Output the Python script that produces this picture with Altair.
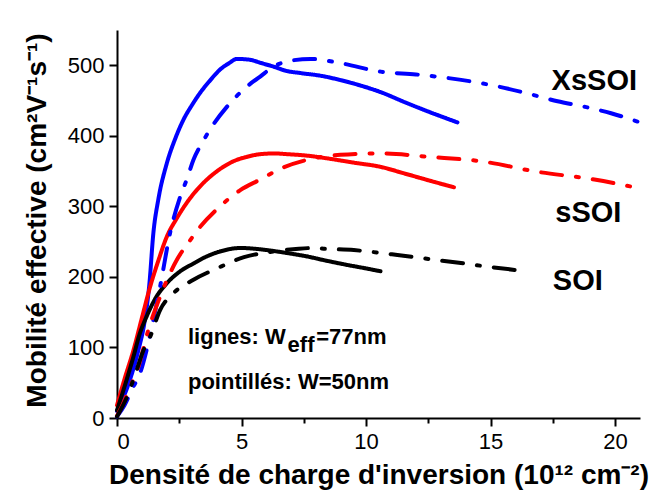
import altair as alt
import pandas as pd

# ---- data ----
# XsSOI, W_eff = 77 nm (solid)
xs_solid_x = [0.0, 0.5, 0.85, 1.1, 1.3, 1.46, 1.66, 2.0, 2.35, 2.67, 3.0, 3.34, 3.75, 4.14, 4.5, 4.82,
              5.3, 5.8, 6.29, 6.8, 7.36, 8.2, 8.97, 9.8, 10.58, 11.6, 12.6, 13.67]
xs_solid_y = [10, 52, 95, 135, 190, 262, 310, 361, 397, 423, 443, 461, 479, 494, 503, 509,
              508, 503, 498, 492, 489, 485, 479, 471, 462, 447, 433, 419]
# sSOI, W_eff = 77 nm (solid)
s_solid_x = [0.0, 0.3, 0.66, 1.0, 1.33, 1.65, 2.0, 2.4, 2.8, 3.2, 3.61, 4.1, 4.68, 5.2, 5.75, 6.3,
             6.83, 7.6, 8.44, 9.5, 10.58, 11.5, 12.5, 13.53]
s_solid_y = [18, 55, 96, 142, 186, 222, 257, 283, 305, 323, 338, 352, 364, 370, 374, 375,
             374, 372, 368, 362, 356, 347, 337, 327]
# SOI, W_eff = 77 nm (solid)
soi_solid_x = [0.0, 0.35, 0.66, 0.9, 1.19, 1.55, 2.0, 2.5, 3.07, 3.6, 4.14, 4.95, 5.5, 6.02, 6.8,
               7.63, 8.4, 9.24, 10.0, 10.58]
soi_solid_y = [11, 50, 87, 118, 144, 170, 191, 207, 219, 229, 236, 241, 240, 238, 234,
               229, 223, 217, 212, 208]
# XsSOI, W = 50 nm (dash-dot)
xs_dd_x = [0.0, 0.3, 0.59, 0.93, 1.2, 1.46, 1.73, 2.13, 2.54, 2.8, 3.07, 3.45, 3.81, 4.41, 5.22, 5.75,
           6.28, 6.9, 7.77, 8.97, 10.58, 12.0, 13.27, 14.4, 15.55, 16.6, 17.69, 18.8, 19.84, 21.0]
xs_dd_y = [2, 18, 40, 64, 98, 139, 186, 262, 314, 338, 366, 392, 413, 441, 470, 484,
           498, 506, 509, 503, 491, 487, 482, 476, 468, 459, 449, 441, 432, 419]
# sSOI, W = 50 nm (dash-dot)
s_dd_x = [0.0, 0.12, 0.5, 0.86, 1.26, 1.73, 2.4, 2.9, 3.34, 4.14, 4.95, 5.75, 6.6, 7.63, 8.97,
          10.58, 12.6, 14.6, 16.89, 19.17, 20.64]
s_dd_y = [3, 11, 42, 73, 125, 172, 224, 250, 271, 300, 323, 338, 354, 366, 373,
          375, 370, 364, 349, 338, 328]
# SOI, W = 50 nm (dash-dot)
soi_dd_x = [0.0, 0.4, 0.79, 1.05, 1.33, 1.73, 2.27, 3.07, 4.01, 5.1, 6.29, 7.3, 7.9, 8.3, 9.51,
            10.58, 11.26, 12.6, 13.94, 15.0, 16.2]
soi_dd_y = [2, 30, 68, 95, 115, 153, 177, 196, 212, 228, 236, 240, 241, 240, 238,
            234, 231, 225, 219, 214, 209]

materials = ["XsSOI", "sSOI", "SOI"]
material_colors = ["#0000ff", "#ff0000", "#000000"]
styles = ["solid", "dashdot"]

series = [
    ("XsSOI", "solid", xs_solid_x, xs_solid_y),
    ("sSOI", "solid", s_solid_x, s_solid_y),
    ("SOI", "solid", soi_solid_x, soi_solid_y),
    ("XsSOI", "dashdot", xs_dd_x, xs_dd_y),
    ("sSOI", "dashdot", s_dd_x, s_dd_y),
    ("SOI", "dashdot", soi_dd_x, soi_dd_y),
]
rows = []
for mat, sty, xs, ys in series:
    for xv, yv in zip(xs, ys):
        rows.append({"x": xv, "y": yv, "material": mat, "style": sty, "series": mat + "-" + sty})
df = pd.DataFrame(rows)

FONT = "Liberation Sans"

xscale = alt.Scale(domain=[0, 21], nice=False, zero=False)
yscale = alt.Scale(domain=[0, 550], nice=False, zero=False)

x_axis = alt.Axis(
    values=[0, 2.5, 5, 7.5, 10, 12.5, 15, 17.5, 20],
    labelExpr="datum.value % 5 === 0 ? datum.label : ''",
    tickSize={"condition": {"test": "datum.value % 5 === 0", "value": 8}, "value": 5},
    grid=False, domainColor="black", domainWidth=2, tickColor="black", tickWidth=2,
    labelFont=FONT, labelFontSize=22, labelColor="black", labelPadding=5,
    title="Densité de charge d'inversion (10¹² cm⁻²)",
    titleFont=FONT, titleFontSize=28, titleFontWeight="bold", titleColor="black",
    titleY=65, titleBaseline="alphabetic",
)
y_axis = alt.Axis(
    values=list(range(0, 551, 50)),
    labelExpr="datum.value % 100 === 0 ? datum.label : ''",
    tickSize={"condition": {"test": "datum.value % 100 === 0", "value": 8}, "value": 5},
    grid=False, domainColor="black", domainWidth=2, tickColor="black", tickWidth=2,
    labelFont=FONT, labelFontSize=22, labelColor="black", labelPadding=5,
    title="Mobilité effective (cm²V⁻¹s⁻¹)",
    titleFont=FONT, titleFontSize=28, titleFontWeight="bold", titleColor="black",
    titleX=-72, titleY=190, titleAngle=-90, titleBaseline="alphabetic", titleAlign="center",
)

lines = alt.Chart(df).mark_line(strokeWidth=4, strokeCap="round", interpolate="monotone").encode(
    x=alt.X("x:Q", scale=xscale, axis=x_axis),
    y=alt.Y("y:Q", scale=yscale, axis=y_axis),
    color=alt.Color("material:N", scale=alt.Scale(domain=materials, range=material_colors), legend=None),
    strokeDash=alt.StrokeDash("style:N", scale=alt.Scale(domain=styles, range=[[1, 0], [21, 14, 3, 14]]),
                              legend=None),
    detail="series:N",
)


def label(text, xv, yv, size, align="left"):
    return alt.Chart().mark_text(
        text=text, font=FONT, fontSize=size, fontWeight="bold", color="black",
        align=align, baseline="alphabetic",
    ).encode(x=alt.datum(xv), y=alt.datum(yv))


texts = [
    label("XsSOI", 17.45, 465, 29),
    label("sSOI", 17.6, 278, 29),
    label("SOI", 17.5, 182, 29),
    label("lignes: W", 2.85, 105, 22),
    label("eff", 6.85, 93, 22),
    label("=77nm", 8.0, 105, 22),
    label("pointillés: W=50nm", 2.85, 41, 22),
]

chart = alt.layer(lines, *texts).properties(
    width=523, height=388,
    autosize=alt.AutoSizeParams(type="none"),
    padding={"left": 109, "top": 22, "right": 16, "bottom": 74},
).configure_view(strokeWidth=0)

chart.save("out.html", embed_options={"renderer": "svg", "actions": False})
